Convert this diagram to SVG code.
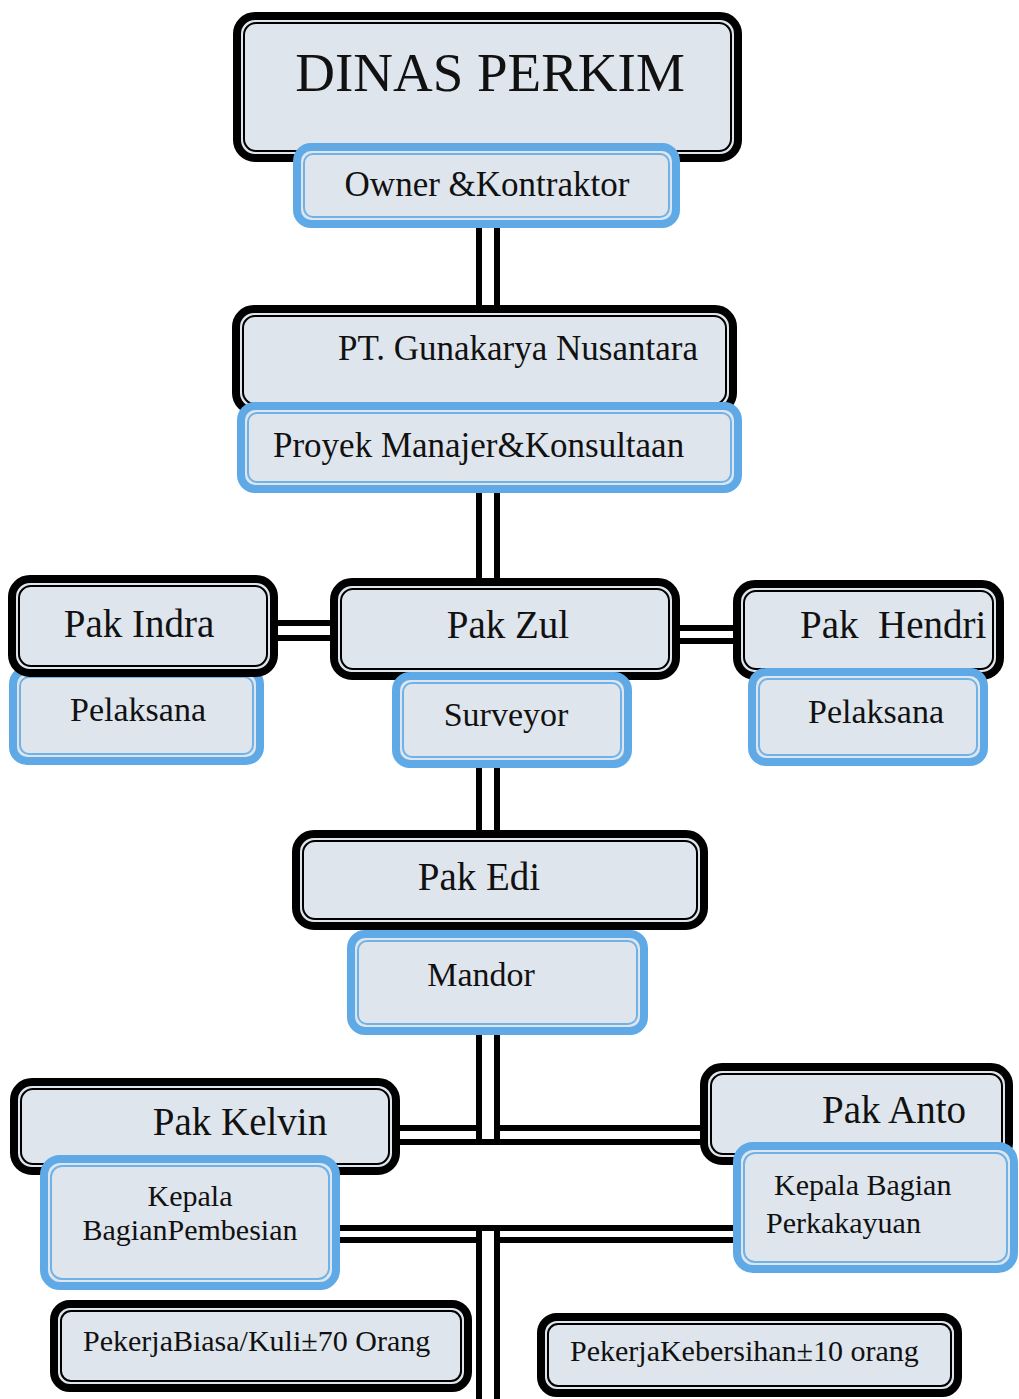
<svg xmlns="http://www.w3.org/2000/svg" width="1019" height="1399" viewBox="0 0 1019 1399">
<style>
.bo{fill:#dfe5ec;stroke:#000;stroke-width:8}
.bi{fill:none;stroke:#000;stroke-width:2}
.uo{fill:#dfe5ec;stroke:#5ea9e6;stroke-width:8}
.ui{fill:none;stroke:#6fb2e8;stroke-width:2}
.c line{stroke:#000;stroke-width:6}
text{font-family:"Liberation Serif","Times New Roman",serif;fill:#111}
.t55{font-size:55px}
.t39{font-size:39px}
.t35{font-size:35px}
.t34{font-size:34px}
.t30{font-size:30px}
.m{text-anchor:middle}
</style>
<rect width="1019" height="1399" fill="#fff"/>

<g id="connectors" class="c">
  <line x1="479" y1="225" x2="479" y2="309"/>
  <line x1="497" y1="225" x2="497" y2="309"/>
  <line x1="479" y1="490" x2="479" y2="582"/>
  <line x1="497" y1="490" x2="497" y2="582"/>
  <line x1="276" y1="623" x2="334" y2="623"/>
  <line x1="276" y1="638" x2="334" y2="638"/>
  <line x1="676" y1="628" x2="737" y2="628"/>
  <line x1="676" y1="641" x2="737" y2="641"/>
  <line x1="479" y1="765" x2="479" y2="834"/>
  <line x1="497" y1="765" x2="497" y2="834"/>
  <line x1="479" y1="1032" x2="479" y2="1145"/>
  <line x1="497" y1="1032" x2="497" y2="1145"/>
  <line x1="396" y1="1128" x2="479" y2="1128"/>
  <line x1="497" y1="1128" x2="704" y2="1128"/>
  <line x1="396" y1="1142" x2="704" y2="1142"/>
  <line x1="336" y1="1228" x2="737" y2="1228"/>
  <line x1="336" y1="1240" x2="479" y2="1240"/>
  <line x1="497" y1="1240" x2="737" y2="1240"/>
  <line x1="479" y1="1225" x2="479" y2="1399"/>
  <line x1="497" y1="1225" x2="497" y2="1399"/>
</g>

<g id="dinas">
  <rect class="bo" x="237" y="16" width="501" height="142" rx="18"/>
  <rect class="bi" x="244" y="23" width="487" height="128" rx="12"/>
  <text class="t55 m" x="490" y="91">DINAS PERKIM</text>
</g>
<g id="owner">
  <rect class="uo" x="297" y="147" width="379" height="77" rx="14"/>
  <rect class="ui" x="304" y="154" width="365" height="63" rx="9"/>
  <text class="t35 m" x="487" y="196">Owner &amp;Kontraktor</text>
</g>
<g id="pt">
  <rect class="bo" x="236" y="309" width="497" height="102" rx="18"/>
  <rect class="bi" x="243" y="316" width="483" height="88" rx="12"/>
  <text class="t35" x="338" y="360">PT. Gunakarya Nusantara</text>
</g>
<g id="proyek">
  <rect class="uo" x="241" y="406" width="497" height="83" rx="14"/>
  <rect class="ui" x="248" y="413" width="483" height="69" rx="9"/>
  <text class="t35" x="273" y="457">Proyek Manajer&amp;Konsultaan</text>
</g>

<g id="pelaksana-l">
  <rect class="uo" x="13" y="670" width="247" height="91" rx="14"/>
  <rect class="ui" x="20" y="677" width="233" height="77" rx="9"/>
  <text class="t34 m" x="138" y="721">Pelaksana</text>
</g>
<g id="indra">
  <rect class="bo" x="12" y="579" width="262" height="94" rx="18"/>
  <rect class="bi" x="19" y="586" width="248" height="80" rx="12"/>
  <text class="t39 m" x="139" y="637">Pak Indra</text>
</g>
<g id="zul">
  <rect class="bo" x="334" y="582" width="342" height="94" rx="18"/>
  <rect class="bi" x="341" y="589" width="328" height="80" rx="12"/>
  <text class="t39 m" x="508" y="638">Pak Zul</text>
</g>
<g id="surveyor">
  <rect class="uo" x="396" y="676" width="232" height="88" rx="14"/>
  <rect class="ui" x="403" y="683" width="218" height="74" rx="9"/>
  <text class="t34 m" x="506" y="726">Surveyor</text>
</g>
<g id="hendri">
  <rect class="bo" x="737" y="584" width="263" height="92" rx="18"/>
  <rect class="bi" x="744" y="591" width="249" height="78" rx="12"/>
  <text class="t39" x="800" y="638" xml:space="preserve">Pak  Hendri</text>
</g>
<g id="pelaksana-r">
  <rect class="uo" x="752" y="672" width="232" height="90" rx="14"/>
  <rect class="ui" x="759" y="679" width="218" height="76" rx="9"/>
  <text class="t34 m" x="876" y="723">Pelaksana</text>
</g>

<g id="edi">
  <rect class="bo" x="296" y="834" width="408" height="92" rx="18"/>
  <rect class="bi" x="303" y="841" width="394" height="78" rx="12"/>
  <text class="t39 m" x="479" y="890">Pak Edi</text>
</g>
<g id="mandor">
  <rect class="uo" x="351" y="934" width="293" height="97" rx="14"/>
  <rect class="ui" x="358" y="941" width="279" height="83" rx="9"/>
  <text class="t34 m" x="481" y="986">Mandor</text>
</g>

<g id="kelvin">
  <rect class="bo" x="14" y="1082" width="382" height="89" rx="18"/>
  <rect class="bi" x="21" y="1089" width="368" height="75" rx="12"/>
  <text class="t39 m" x="240" y="1135">Pak Kelvin</text>
</g>
<g id="kepala-pembesian">
  <rect class="uo" x="44" y="1159" width="292" height="127" rx="16"/>
  <rect class="ui" x="51" y="1166" width="278" height="113" rx="11"/>
  <text class="t30 m" x="190" y="1206">Kepala</text>
  <text class="t30 m" x="190" y="1240">BagianPembesian</text>
</g>
<g id="pekerja-biasa">
  <rect class="bo" x="54" y="1304" width="414" height="84" rx="16"/>
  <rect class="bi" x="61" y="1311" width="400" height="70" rx="10"/>
  <text class="t30" x="83" y="1351">PekerjaBiasa/Kuli±70 Orang</text>
</g>

<g id="anto">
  <rect class="bo" x="704" y="1067" width="305" height="94" rx="18"/>
  <rect class="bi" x="711" y="1074" width="291" height="80" rx="12"/>
  <text class="t39" x="822" y="1123">Pak Anto</text>
</g>
<g id="kepala-perkakayuan">
  <rect class="uo" x="737" y="1146" width="277" height="123" rx="16"/>
  <rect class="ui" x="744" y="1153" width="263" height="109" rx="11"/>
  <text class="t30" x="774" y="1195">Kepala Bagian</text>
  <text class="t30" x="766" y="1233">Perkakayuan</text>
</g>
<g id="pekerja-kebersihan">
  <rect class="bo" x="541" y="1317" width="417" height="76" rx="16"/>
  <rect class="bi" x="548" y="1324" width="403" height="62" rx="10"/>
  <text class="t30" x="570" y="1361">PekerjaKebersihan±10 orang</text>
</g>
</svg>
